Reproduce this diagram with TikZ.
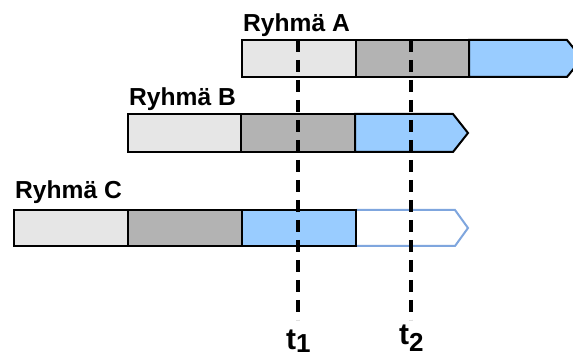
\documentclass[tikz,border=0pt]{standalone}
\usepackage{fontspec}
\setmainfont{Liberation Sans}
\begin{document}
\begin{tikzpicture}[x=1pt,y=-1pt,
  seg/.style={draw=black, line width=2pt},
  lgray/.style={seg, fill=lgcol},
  mgray/.style={seg, fill=mgcol},
  blue/.style={seg, fill=bluecol},
  ghost/.style={draw=ghostcol, line width=2pt, fill=white},
  grp/.style={anchor=base west, inner sep=0pt, font=\fontsize{24.6}{28}\selectfont\bfseries},
  tlab/.style={inner sep=0pt, font=\fontsize{30}{34}\selectfont\bfseries},
  tline/.style={line width=3.5pt, dash pattern=on 12pt off 8pt}]
\definecolor{lgcol}{HTML}{E6E6E6}
\definecolor{mgcol}{HTML}{B3B3B3}
\definecolor{bluecol}{HTML}{99CCFF}
\definecolor{ghostcol}{HTML}{7FA6DE}
\useasboundingbox (0,0) rectangle (573,355);
\clip (0,0) rectangle (573,355);
% Group A
\node[grp] (la) at (243,32) {Ryhmä A};
\draw[lgray] (242,40) rectangle (356,77);
\draw[mgray] (356,40) rectangle (469,77);
\draw[blue] (469,40) -- (567,40) -- (582,58.5) -- (567,77) -- (469,77) -- cycle;
% Group B
\node[grp] (lb) at (129,106) {Ryhmä B};
\draw[lgray] (128,114) rectangle (241,152);
\draw[mgray] (241,114) rectangle (355,152);
\draw[blue] (355,114) -- (453,114) -- (468,133) -- (453,152) -- (355,152) -- cycle;
% Group C
\node[grp] (lc) at (15,199) {Ryhmä C};
\draw[ghost] (356,210) -- (455,210) -- (468,228) -- (455,246) -- (356,246);
\draw[lgray] (14,210) rectangle (128,246);
\draw[mgray] (128,210) rectangle (242,246);
\draw[blue] (242,210) rectangle (356,246);
% time lines
\coordinate (t1top) at (298,40);
\coordinate (t1bot) at (298,320);
\coordinate (t2top) at (411,40);
\coordinate (t2bot) at (411,320);
\draw[tline] (t1top) -- (t1bot);
\draw[tline] (t2top) -- (t2bot);
\node[tlab, anchor=base west] (t1) at (286,349.5) {t\raisebox{-2.5pt}{\fontsize{26}{30}\selectfont 1}};
\node[tlab, anchor=base west] (t2) at (399,344.5) {t\raisebox{-7.5pt}{\fontsize{26}{30}\selectfont 2}};
\end{tikzpicture}
\end{document}
